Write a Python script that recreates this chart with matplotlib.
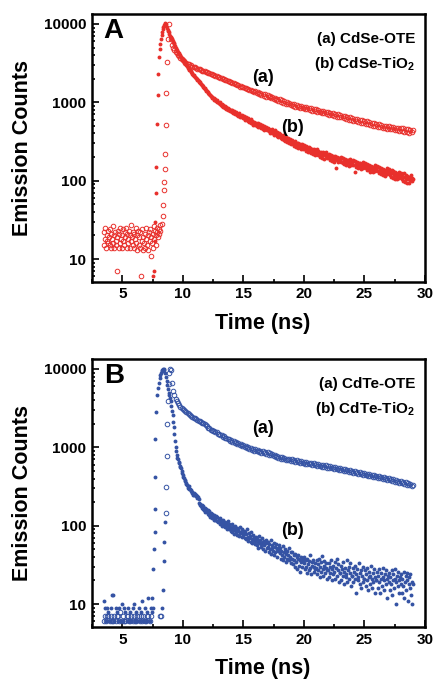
import matplotlib
matplotlib.use("Agg")
import matplotlib.pyplot as plt
import numpy as np
from matplotlib.ticker import FixedLocator, NullFormatter

plt.rcParams['font.family'] = ['Liberation Sans', 'DejaVu Sans']
plt.rcParams['font.weight'] = 'bold'
plt.rcParams['mathtext.fontset'] = 'custom'
plt.rcParams['mathtext.rm'] = 'Liberation Sans:bold'
plt.rcParams['mathtext.bf'] = 'Liberation Sans:bold'

RED = '#e8302c'
BLUE = '#3553a4'

# ---- data ----------------------------------------------------------------
# background channels start at 3.45 ns; decay channels start at 9.0 ns
bg_t0 = 3.45
dec_t0 = 9.0

# Panel A, (a) CdSe-OTE (open symbols), background 0.05 ns channels
A_ote_bg = [15, 22, 18, 25, 14, 20, 17, 23, 16, 19,
            24, 15, 21, 14, 18, 26, 16, 20, 14, 22,
            17, 15, 7, 19, 23, 14, 21, 16, 25, 18,
            14, 20, 24, 17, 15, 22, 19, 25, 14, 21,
            18, 16, 23, 14, 20, 27, 17, 19, 22, 15,
            21, 14, 18, 25, 16, 13, 20, 23, 15, 19,
            14, 22, 6, 17, 24, 13, 19, 16, 21, 14,
            25, 18, 15, 20, 13, 22, 17, 24, 11, 19,
            16, 21, 14, 26, 18, 23, 15, 20, 25, 22,
            19, 24, 21, 27, 23]
A_ote_rise_t = [8.25, 8.33, 8.37, 8.42, 8.47, 8.50, 8.54, 8.58, 8.64, 8.72, 8.80, 8.88]
A_ote_rise_y = [28, 35, 49, 75, 95, 140, 220, 520, 1300, 3300, 6400, 10000]
# decay, 0.1 ns channels
A_ote_decay = [6400, 5450, 4950, 4620, 4380, 4210, 3980, 3870, 3690, 3560,
               3420, 3360, 3200, 3150, 3060, 3040, 2930, 2950, 2850, 2820,
               2780, 2750, 2690, 2640, 2650, 2560, 2540, 2500, 2480, 2420,
               2440, 2360, 2350, 2290, 2300, 2210, 2220, 2150, 2150, 2090,
               2110, 2030, 2030, 1960, 1970, 1910, 1910, 1850, 1850, 1790,
               1800, 1750, 1740, 1700, 1690, 1640, 1660, 1590, 1600, 1560,
               1570, 1510, 1520, 1470, 1480, 1430, 1450, 1390, 1410, 1360,
               1390, 1310, 1360, 1280, 1320, 1240, 1290, 1210, 1260, 1180,
               1230, 1160, 1200, 1130, 1170, 1090, 1140, 1070, 1110, 1040,
               1090, 1020, 1060, 980, 1030, 960, 1000, 940, 985, 920,
               960, 905, 945, 880, 925, 870, 905, 850, 895, 840,
               880, 830, 865, 810, 850, 795, 835, 780, 820, 770,
               810, 760, 795, 745, 785, 730, 770, 720, 760, 705,
               750, 695, 735, 685, 720, 670, 710, 655, 700, 645,
               690, 640, 675, 625, 665, 610, 650, 600, 640, 590,
               635, 585, 620, 570, 610, 560, 600, 550, 590, 540,
               580, 535, 570, 525, 560, 515, 550, 505, 540, 495,
               535, 490, 525, 480, 515, 475, 505, 465, 500, 460,
               500, 455, 490, 450, 480, 445, 475, 440, 470, 430,
               470, 425, 465, 420, 455, 415, 450, 410, 445, 420,
               440]

# Panel A, (b) CdSe-TiO2 (filled symbols)
A_tio_rise_t = [7.58, 7.60, 7.70, 7.74, 7.79, 7.82, 7.87, 7.92, 7.98, 8.04, 8.09, 8.15,
                8.20, 8.25, 8.30, 8.35, 8.40, 8.45, 8.50, 8.55, 8.60, 8.65, 8.70, 8.75,
                8.80, 8.85, 8.90, 8.95]
A_tio_rise_y = [6, 7, 17, 30, 70, 150, 530, 1240, 2300, 3750, 4800, 5600,
                6400, 7200, 7900, 8600, 9200, 9700, 10100, 10300, 10000, 9500, 9000, 8400,
                8200, 7800, 7400, 7100]
# decay, 0.05 ns channels
A_tio_decay = [6900, 6600, 6400, 6100, 5900, 5700, 5500, 5250, 5000, 4850,
               4700, 4550, 4400, 4280, 4150, 4020, 3900, 3800, 3700, 3600,
               3500, 3420, 3330, 3240, 3150, 3050, 2960, 2880, 2800, 2740,
               2690, 2610, 2550, 2480, 2410, 2360, 2300, 2250, 2200, 2150,
               2100, 2060, 2020, 1990, 1950, 1910, 1880, 1830, 1790, 1750,
               1700, 1680, 1640, 1600, 1560, 1530, 1500, 1460, 1430, 1400,
               1380, 1350, 1310, 1290, 1280, 1230, 1210, 1190, 1180, 1140,
               1130, 1150, 1080, 1100, 1060, 1040, 1070, 1000, 1020, 990,
               970, 1000, 940, 920, 960, 900, 880, 910, 860, 890,
               850, 830, 870, 810, 840, 800, 790, 830, 770, 800,
               780, 760, 800, 740, 730, 770, 720, 700, 745, 690,
               710, 680, 660, 720, 650, 690, 670, 640, 680, 630,
               650, 670, 620, 600, 655, 610, 590, 630, 580, 560,
               600, 570, 550, 610, 540, 575, 520, 560, 545, 510,
               530, 550, 500, 520, 540, 490, 505, 480, 530, 470,
               495, 510, 460, 485, 445, 500, 470, 450, 480, 440,
               455, 470, 430, 460, 410, 445, 420, 450, 400, 430,
               410, 385, 440, 395, 415, 375, 420, 390, 365, 400,
               370, 390, 350, 375, 340, 385, 355, 330, 360, 320,
               345, 365, 330, 310, 350, 325, 300, 340, 315, 295,
               310, 330, 290, 315, 280, 320, 300, 270, 305, 285,
               260, 300, 275, 295, 265, 285, 250, 290, 270, 255,
               270, 285, 250, 275, 240, 265, 255, 230, 270, 245,
               235, 260, 225, 250, 240, 220, 255, 230, 215, 245,
               235, 250, 220, 240, 210, 235, 225, 200, 230, 215,
               195, 235, 210, 225, 190, 220, 205, 230, 195, 212,
               205, 220, 192, 210, 185, 215, 198, 180, 208, 190,
               175, 205, 188, 145, 200, 182, 196, 172, 192, 185,
               188, 200, 175, 192, 168, 196, 180, 162, 190, 172,
               158, 186, 170, 182, 155, 178, 165, 188, 160, 174,
               172, 185, 160, 176, 130, 180, 165, 150, 175, 158,
               145, 170, 155, 168, 142, 162, 150, 172, 146, 158,
               155, 168, 144, 160, 138, 164, 150, 135, 158, 142,
               130, 155, 140, 150, 128, 148, 136, 158, 132, 145,
               142, 155, 132, 148, 126, 150, 138, 122, 146, 130,
               118, 142, 128, 138, 116, 136, 124, 145, 120, 132,
               127, 140, 118, 134, 112, 136, 124, 108, 132, 118,
               105, 128, 115, 126, 104, 122, 112, 130, 108, 118,
               115, 126, 106, 120, 100, 124, 112, 96, 118, 104,
               94, 116, 106, 112, 92, 110, 102, 118, 98, 108,
               105]

# Panel B, (a) CdTe-OTE (open symbols), background 0.1 ns channels
B_ote_bg = [6, 7, 6, 7, 7, 6, 7, 6, 6, 7,
            6, 7, 7, 6, 8, 6, 7, 6, 6, 7,
            7, 6, 6, 7, 6, 7, 6, 6, 7, 7,
            6, 7, 6, 7, 6, 6, 7, 7, 6, 7]
B_ote_rise_t = [8.14, 8.22, 8.60, 8.64, 8.68, 8.72, 8.76, 8.82, 8.90, 8.97]
B_ote_rise_y = [7, 7, 145, 314, 770, 1960, 3900, 6500, 9000, 10000]
# decay, 0.1 ns channels
B_ote_decay = [9800, 6600, 5300, 4600, 4150, 3850, 3650, 3480, 3320, 3180,
               3050, 2960, 2880, 2800, 2730, 2660, 2590, 2520, 2460, 2400,
               2340, 2290, 2230, 2200, 2140, 2110, 2050, 2020, 1960, 1930,
               1860, 1780, 1740, 1680, 1670, 1610, 1610, 1550, 1560, 1490,
               1500, 1430, 1440, 1370, 1380, 1320, 1330, 1270, 1290, 1220,
               1240, 1180, 1200, 1140, 1160, 1100, 1120, 1060, 1090, 1030,
               1060, 1000, 1030, 975, 1005, 950, 985, 930, 965, 910,
               945, 890, 925, 875, 905, 855, 890, 840, 875, 825,
               860, 810, 840, 790, 820, 770, 800, 750, 780, 735,
               760, 720, 745, 705, 730, 690, 720, 680, 710, 672,
               700, 662, 690, 655, 682, 645, 672, 636, 664, 628,
               658, 622, 650, 615, 640, 606, 632, 598, 625, 590,
               618, 584, 610, 576, 602, 568, 595, 560, 587, 552,
               580, 545, 572, 538, 565, 530, 557, 523, 550, 515,
               542, 508, 535, 502, 528, 495, 520, 488, 513, 482,
               505, 475, 498, 468, 490, 462, 484, 455, 476, 448,
               470, 442, 462, 435, 456, 428, 450, 422, 443, 416,
               437, 410, 430, 403, 424, 398, 417, 390, 410, 384,
               405, 378, 398, 372, 391, 365, 384, 358, 377, 352,
               370, 346, 364, 340, 357, 334, 350, 328, 344, 322,
               335]

# Panel B, (b) CdTe-TiO2 (filled symbols), background 0.1 ns channels
B_tio_bg = [11, 9, 6, 9, 8, 6, 9, 13, 13, 6,
            9, 8, 6, 9, 6, 10, 6, 9, 8, 6,
            9, 6, 8, 6, 9, 10, 6, 8, 6, 9,
            6, 8, 11, 6, 9, 6, 8, 12, 6, 9,
            8]
B_tio_rise_t = [7.45, 7.53, 7.53, 7.60, 7.67, 7.73, 7.73, 7.73, 7.81, 7.87, 7.95, 8.02,
                8.08, 8.14, 8.20, 8.26, 8.32, 8.38, 8.42, 8.48, 8.54, 8.60, 8.66, 8.72,
                8.78, 8.84, 8.90, 8.96, 8.27, 8.36, 8.42, 8.47, 8.55]
B_tio_rise_y = [12, 9, 28, 51, 84, 162, 420, 1280, 2850, 4660, 5700, 6700,
                7600, 8400, 9000, 9500, 9800, 10000, 10100, 9800, 9000, 8000, 7000, 6200,
                5500, 5000, 4600, 4300, 9, 15, 35, 62, 112]
# decay, 0.05 ns channels
B_tio_decay = [3900, 3400, 2950, 2550, 2100, 1800, 1480, 1220, 1010, 890,
               800, 730, 700, 650, 625, 585, 565, 540, 495, 475,
               445, 420, 405, 380, 372, 350, 345, 330, 322, 305,
               318, 295, 290, 282, 276, 262, 270, 250, 258, 245,
               255, 238, 250, 228, 242, 235, 220, 195, 182, 190,
               176, 185, 170, 165, 178, 158, 168, 150, 162, 155,
               148, 160, 142, 152, 138, 128, 146, 134, 124, 140,
               130, 120, 136, 126, 118, 132, 114, 128, 110, 122,
               115, 126, 104, 118, 110, 98, 120, 106, 100, 112,
               95, 108, 102, 92, 114, 98, 90, 104, 96, 86,
               92, 104, 84, 96, 88, 78, 100, 90, 82, 94,
               76, 88, 86, 74, 96, 80, 84, 72, 90, 78,
               76, 86, 70, 82, 68, 78, 90, 72, 64, 80,
               70, 74, 62, 84, 68, 60, 76, 66, 72, 58,
               64, 72, 56, 68, 62, 52, 74, 60, 66, 54,
               58, 70, 50, 62, 56, 64, 48, 60, 66, 52,
               54, 62, 46, 58, 50, 66, 44, 56, 52, 48,
               60, 42, 54, 46, 58, 50, 40, 52, 48, 56,
               45, 52, 38, 48, 42, 55, 36, 46, 40, 50,
               34, 44, 48, 38, 42, 52, 36, 40, 46, 33,
               38, 46, 32, 42, 36, 30, 44, 34, 40, 28,
               38, 42, 31, 36, 26, 40, 34, 30, 38, 35,
               33, 40, 28, 36, 30, 25, 38, 32, 27, 35,
               42, 29, 24, 34, 31, 37, 26, 30, 33, 28,
               29, 36, 24, 32, 27, 38, 22, 30, 34, 26,
               41, 28, 23, 31, 35, 25, 29, 33, 21, 27,
               27, 33, 22, 30, 25, 36, 20, 28, 31, 24,
               26, 34, 21, 29, 38, 23, 27, 32, 19, 25,
               25, 31, 20, 28, 23, 34, 18, 26, 29, 22,
               24, 36, 19, 27, 30, 21, 25, 33, 17, 23,
               23, 29, 19, 26, 21, 31, 14, 24, 28, 20,
               22, 33, 18, 25, 27, 16, 23, 30, 19, 21,
               21, 27, 17, 24, 20, 29, 15, 22, 26, 18,
               23, 31, 16, 21, 25, 19, 28, 14, 22, 20,
               20, 26, 16, 23, 19, 28, 14, 21, 25, 17,
               22, 29, 15, 20, 24, 18, 27, 12, 21, 23,
               19, 25, 15, 22, 18, 27, 13, 20, 24, 16,
               21, 28, 10, 19, 23, 17, 26, 14, 20, 22,
               18, 24, 14, 21, 17, 26, 12, 19, 23, 15,
               20, 25, 11, 18, 22, 16, 24, 13, 19, 10,
               18]

x_ticks = [5, 10, 15, 20, 25, 30]
y_ticks = [10, 100, 1000, 10000]
y_tick_labels = ['10', '100', '1000', '10000']


def channels(t0, dt, values):
    return t0 + dt * np.arange(len(values))


def series(bg, bg_dt, rise_t, rise_y, decay, dec_dt):
    t, y = [], []
    if bg:
        t += list(channels(bg_t0, bg_dt, bg))
        y += list(bg)
    t += list(rise_t) + list(channels(dec_t0, dec_dt, decay))
    y += list(rise_y) + list(decay)
    return np.array(t), np.array(y, dtype=float)


def draw_panel(ax, letter, color, open_data, filled_data, names, lab_pos):
    t, y = filled_data
    ax.plot(t, y, 'o', color=color, ms=2.8, mew=0)
    t, y = open_data
    ax.plot(t, y, 'o', mfc='none', mec=color, ms=3.3, mew=0.7)

    ax.set_yscale('log')
    ax.set_xlim(2.5, 30)
    ax.set_ylim(5.1, 13400)
    ax.set_xticks(x_ticks)
    ax.xaxis.set_minor_locator(FixedLocator([2.5, 7.5, 12.5, 17.5, 22.5, 27.5]))
    ax.set_yticks(y_ticks)
    ax.set_yticklabels(y_tick_labels)
    ax.yaxis.set_minor_locator(FixedLocator(
        [m * 10 ** e for e in range(0, 5) for m in range(2, 10)]))
    ax.yaxis.set_minor_formatter(NullFormatter())
    ax.tick_params(which='both', direction='in', top=False, right=False,
                   labelsize=11, width=1.2)
    ax.tick_params(which='major', length=5, pad=4)
    ax.tick_params(which='minor', length=2.5)
    for lab in ax.get_xticklabels() + ax.get_yticklabels():
        lab.set_fontweight('bold')
    for s in ax.spines.values():
        s.set_linewidth(1.8)

    ax.set_xlabel('Time (ns)', fontsize=15.5, fontweight='bold')
    ax.set_ylabel('Emission Counts', fontsize=15.5, fontweight='bold')
    ax.xaxis.set_label_coords(0.513, -0.115)
    ax.yaxis.set_label_coords(-0.178, 0.5)

    ax.text(0.035, 0.935, letter, transform=ax.transAxes, fontsize=20,
            fontweight='bold', va='center', ha='left')
    ax.text(0.97, 0.905, names[0], transform=ax.transAxes, fontsize=11,
            fontweight='bold', ha='right', va='center')
    ax.text(0.97, 0.815, names[1], transform=ax.transAxes, fontsize=11,
            fontweight='bold', ha='right', va='center')
    ax.text(lab_pos[0][0], lab_pos[0][1], '(a)', fontsize=13, fontweight='bold',
            ha='center', va='center')
    ax.text(lab_pos[1][0], lab_pos[1][1], '(b)', fontsize=13, fontweight='bold',
            ha='center', va='center')


fig = plt.figure(figsize=(4.34, 6.81), dpi=100)
axA = fig.add_axes([0.212, 0.586, 0.767, 0.3935])
axB = fig.add_axes([0.212, 0.0793, 0.767, 0.3935])

draw_panel(axA, 'A', RED,
           series(A_ote_bg, 0.05, A_ote_rise_t, A_ote_rise_y, A_ote_decay, 0.1),
           series(None, 0.05, A_tio_rise_t, A_tio_rise_y, A_tio_decay, 0.05),
           ['(a) CdSe-OTE', r'(b) CdSe-TiO$_{2}$'],
           [(16.6, 2100), (19.1, 470)])
draw_panel(axB, 'B', BLUE,
           series(B_ote_bg, 0.1, B_ote_rise_t, B_ote_rise_y, B_ote_decay, 0.1),
           series(B_tio_bg, 0.1, B_tio_rise_t, B_tio_rise_y, B_tio_decay, 0.05),
           ['(a) CdTe-OTE', r'(b) CdTe-TiO$_{2}$'],
           [(16.6, 1760), (19.1, 88)])

fig.savefig('out.png', dpi=100)
